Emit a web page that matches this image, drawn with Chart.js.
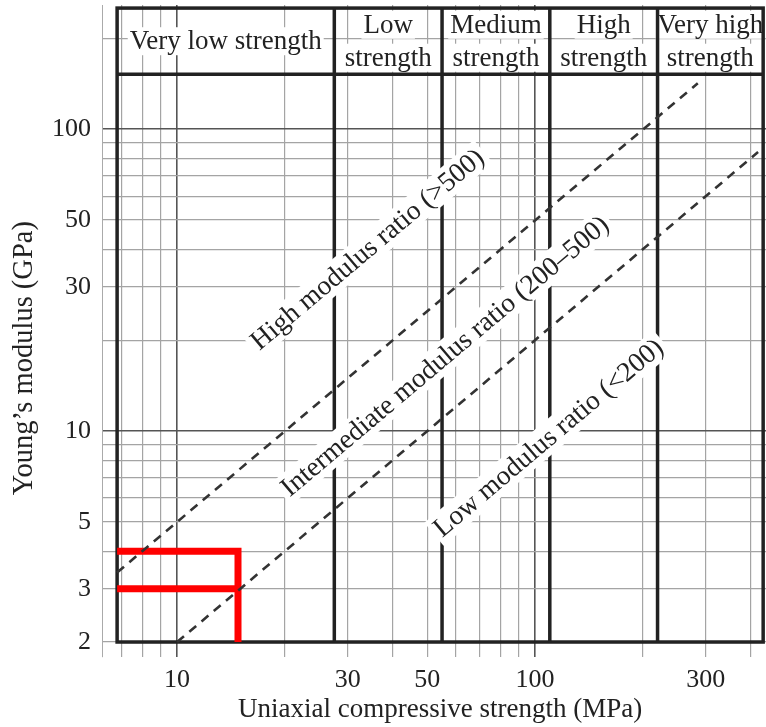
<!DOCTYPE html>
<html>
<head>
<meta charset="utf-8">
<script src="https://cdn.jsdelivr.net/npm/chart.js@4"></script>
<style>
html, body { margin: 0; padding: 0; background: #fff; }
#wrap { width: 766px; height: 727px; position: relative; }
</style>
</head>
<body>
<div id="wrap"><canvas id="modulusChart"></canvas></div>
<script>
// axis ranges: UCS in MPa, E in GPa
const xRange = [6.17, 442];
const yRange = [1.784, 258];
const xTickLabels = [10, 30, 50, 100, 300];
const yTickLabels = [2, 3, 5, 10, 30, 50, 100];
const xTitle = 'Uniaxial compressive strength (MPa)';
const yTitle = 'Young’s modulus (GPa)';

// strength classes (MPa), first/last = frame edges
const strengthBounds = [6.8, 27.5, 55, 110, 220, 434];
const strengthNames = [['Very low strength'], ['Low', 'strength'], ['Medium', 'strength'], ['High', 'strength'], ['Very high', 'strength']];
const boxY = [2, 252];
const headerY = 152;

// modulus ratio lines
const highRatioX = [6.8, 285];
const highRatioY = [3.4, 142];
const lowRatioX = [10, 420];
const lowRatioY = [2, 84];

const ratioLabels = ['High modulus ratio (>500)', 'Intermediate modulus ratio (200–500)', 'Low modulus ratio (<200)'];
const ratioLabelX = [34, 56, 109];
const ratioLabelY = [40, 17.7, 9.5];

// red marker lines
const markX = [6.8, 14.8, 14.8];
const markY = [4, 4, 2];
const mark2X = [6.8, 14.8];
const mark2Y = [3, 3];

const serif = "'Liberation Serif', 'DejaVu Serif', serif";
const ink = '#222';

const toPoints = (xs, ys) => xs.map((v, i) => ({x: v, y: ys[i]}));

function mantissa(v) {
    return v / Math.pow(10, Math.floor(Math.log10(v) + 1e-9));
}
function isDecade(v) {
    return Math.abs(mantissa(v) - 1) < 1e-6;
}
function hasLabel(list, v) {
    return list.some(l => Math.abs(l - v) < 1e-6);
}
// keep 1..9 x 10^n ticks only, and make sure every labelled value has a tick
function roundTicks(labels) {
    return scale => {
        const ticks = scale.ticks.filter(t => {
            const m = mantissa(t.value);
            return Math.abs(m - Math.round(m)) < 1e-6;
        });
        labels.forEach(v => {
            if (!ticks.some(t => Math.abs(t.value - v) < 1e-6)) ticks.push({value: v, major: isDecade(v)});
        });
        ticks.sort((a, b) => a.value - b.value);
        scale.ticks = ticks;
    };
}

const gridOpts = {
    drawTicks: false,
    color: c => (c.tick && isDecade(c.tick.value)) ? '#555' : '#a4a4a4',
    lineWidth: c => (c.tick && isDecade(c.tick.value)) ? 1.6 : 1.2
};

const framePlugin = {
    id: 'frame',
    beforeDatasetsDraw(chart) {
        const {ctx, scales: {x, y}} = chart;
        const left = x.getPixelForValue(strengthBounds[0]);
        const right = x.getPixelForValue(strengthBounds[strengthBounds.length - 1]);
        const bottom = y.getPixelForValue(boxY[0]);
        const top = y.getPixelForValue(boxY[1]);
        const head = y.getPixelForValue(headerY);
        ctx.save();

        // header texts
        ctx.font = '27px ' + serif;
        ctx.textAlign = 'center';
        ctx.textBaseline = 'middle';
        const mid = (top + head) / 2;
        strengthNames.forEach((lines, i) => {
            const cx = (x.getPixelForValue(strengthBounds[i]) + x.getPixelForValue(strengthBounds[i + 1])) / 2;
            lines.forEach((t, j) => {
                const cy = mid + (j - (lines.length - 1) / 2) * 33;
                const w = ctx.measureText(t).width;
                ctx.fillStyle = '#fff';
                ctx.fillRect(cx - w / 2 - 2, cy - 14, w + 4, 28);
                ctx.fillStyle = ink;
                ctx.fillText(t, cx, cy + 1);
            });
        });

        // frame and class boundaries
        ctx.strokeStyle = ink;
        ctx.lineWidth = 3.5;
        ctx.strokeRect(left, top, right - left, bottom - top);
        ctx.beginPath();
        ctx.moveTo(left, head);
        ctx.lineTo(right, head);
        strengthBounds.slice(1, -1).forEach(v => {
            const px = x.getPixelForValue(v);
            ctx.moveTo(px, top);
            ctx.lineTo(px, bottom);
        });
        ctx.stroke();

        // ratio labels along the dashed lines
        const angle = Math.atan2(
            y.getPixelForValue(highRatioY[0]) - y.getPixelForValue(highRatioY[1]),
            x.getPixelForValue(highRatioX[1]) - x.getPixelForValue(highRatioX[0]));
        ctx.font = '27.5px ' + serif;
        ratioLabels.forEach((t, i) => {
            ctx.save();
            ctx.translate(x.getPixelForValue(ratioLabelX[i]), y.getPixelForValue(ratioLabelY[i]));
            ctx.rotate(-angle);
            const w = ctx.measureText(t).width;
            ctx.fillStyle = '#fff';
            ctx.fillRect(-w / 2 - 4, -15, w + 8, 30);
            ctx.fillStyle = ink;
            ctx.fillText(t, 0, 1);
            ctx.restore();
        });
        ctx.restore();
    },
    afterDraw(chart) {
        const {ctx, scales: {x, y}} = chart;
        ctx.save();
        ctx.fillStyle = ink;
        ctx.textAlign = 'center';
        ctx.textBaseline = 'middle';
        ctx.font = '27px ' + serif;
        const cx = (x.getPixelForValue(strengthBounds[0]) + x.getPixelForValue(strengthBounds[strengthBounds.length - 1])) / 2;
        ctx.fillText(xTitle, cx, chart.height - 17);
        ctx.font = '28.5px ' + serif;
        const cy = (y.getPixelForValue(boxY[0]) + y.getPixelForValue(headerY)) / 2;
        ctx.translate(25, cy);
        ctx.rotate(-Math.PI / 2);
        ctx.fillText(yTitle, 0, 0);
        ctx.restore();
    }
};

const modulusCtx = document.getElementById('modulusChart').getContext('2d');
new Chart(modulusCtx, {
    type: 'line',
    data: {
        datasets: [
            {
                label: 'High ratio',
                data: toPoints(highRatioX, highRatioY),
                borderColor: '#333',
                borderWidth: 2.6,
                borderDash: [9, 7],
                pointRadius: 0
            },
            {
                label: 'Low ratio',
                data: toPoints(lowRatioX, lowRatioY),
                borderColor: '#333',
                borderWidth: 2.6,
                borderDash: [9, 7],
                pointRadius: 0
            },
            {
                label: 'Mark 1',
                data: toPoints(markX, markY),
                borderColor: '#ff0000',
                borderWidth: 7,
                borderJoinStyle: 'miter',
                pointRadius: 0
            },
            {
                label: 'Mark 2',
                data: toPoints(mark2X, mark2Y),
                borderColor: '#ff0000',
                borderWidth: 7,
                pointRadius: 0
            }
        ]
    },
    options: {
        responsive: true,
        maintainAspectRatio: false,
        animation: false,
        layout: { padding: { top: 5, right: 0, bottom: 0, left: 0 } },
        plugins: {
            legend: { display: false },
            tooltip: { enabled: false }
        },
        scales: {
            x: {
                type: 'logarithmic',
                min: xRange[0],
                max: xRange[1],
                afterBuildTicks: roundTicks(xTickLabels),
                afterFit: s => { s.height = 70; s.paddingLeft = 0; s.paddingRight = 0; },
                grid: gridOpts,
                border: { display: false },
                ticks: {
                    autoSkip: false,
                    maxRotation: 0,
                    padding: 8,
                    color: ink,
                    font: { family: serif, size: 26 },
                    callback: v => hasLabel(xTickLabels, v) ? String(Math.round(v)) : ''
                }
            },
            y: {
                type: 'logarithmic',
                min: yRange[0],
                max: yRange[1],
                afterBuildTicks: roundTicks(yTickLabels),
                afterFit: s => { s.width = 102; s.paddingTop = 0; s.paddingBottom = 0; },
                grid: gridOpts,
                border: { display: true, color: '#aaa', width: 1 },
                ticks: {
                    autoSkip: false,
                    padding: 11,
                    color: ink,
                    font: { family: serif, size: 26 },
                    callback: v => hasLabel(yTickLabels, v) ? String(Math.round(v)) : ''
                }
            }
        }
    },
    plugins: [framePlugin]
});
</script>
</body>
</html>
